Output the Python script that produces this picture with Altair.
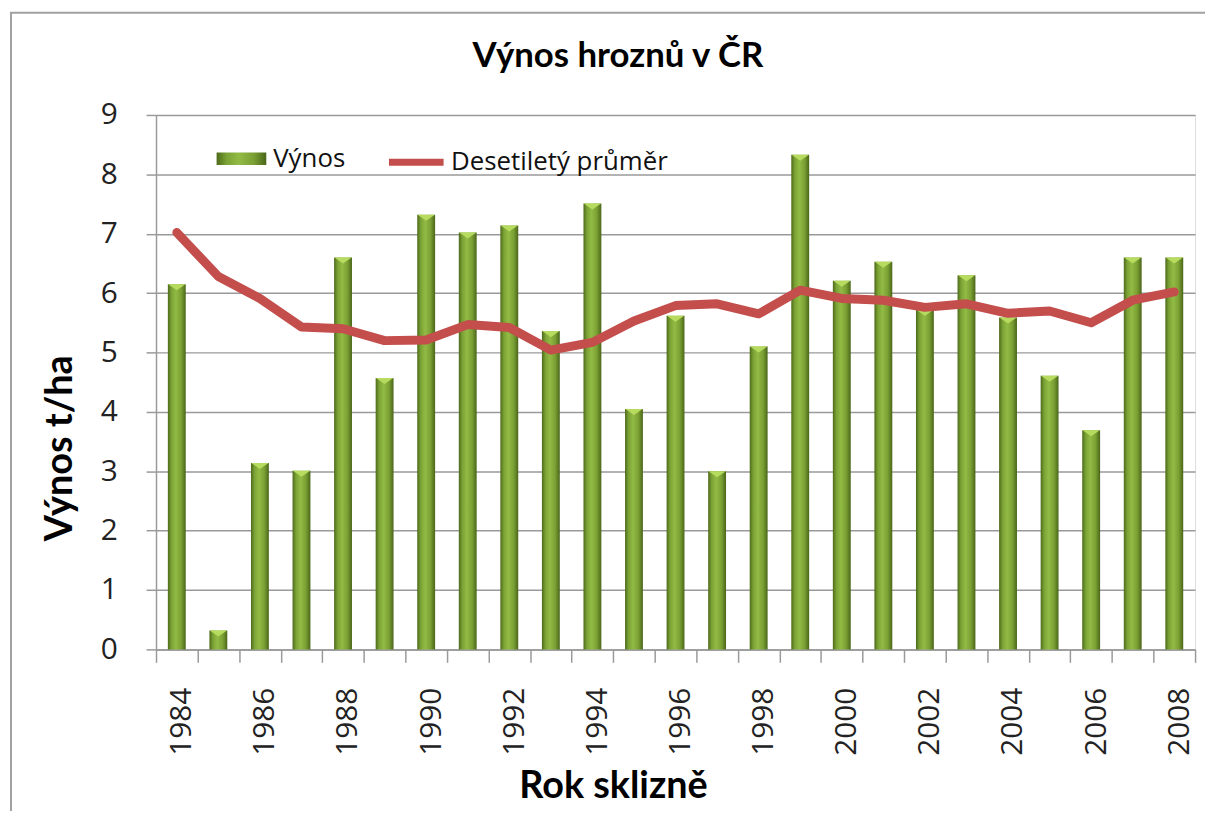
import altair as alt
import pandas as pd

# ---- data ----
years = list(range(1984, 2009))
vynos = [6.15, 0.32, 3.14, 3.01, 6.60, 4.57, 7.32, 7.02, 7.14, 5.36, 7.51, 4.05, 5.62,
         3.00, 5.10, 8.33, 6.21, 6.53, 5.72, 6.30, 5.59, 4.61, 3.69, 6.60, 6.60]
prumer = [7.02, 6.28, 5.91, 5.43, 5.40, 5.20, 5.21, 5.47, 5.42, 5.04, 5.17, 5.53, 5.79,
          5.82, 5.65, 6.05, 5.91, 5.88, 5.76, 5.82, 5.66, 5.70, 5.50, 5.88, 6.02]
y_ticks = list(range(0, 10))
series_bar = "Výnos"
series_line = "Desetiletý průměr"

df = pd.DataFrame({"rok": years, "vynos": vynos, "prumer": prumer,
                   "s1": series_bar, "s2": series_line})

W, H = 1046, 538
GRID = "#9a9a9a"

x_enc = alt.X(
    "rok:O",
    scale=alt.Scale(paddingInner=0, paddingOuter=0),
    axis=alt.Axis(
        title="Rok sklizně", tickBand="extent", labelAngle=-90, labelAlign="right",
        labelBaseline="middle", labelExpr="datum.value % 2 == 0 ? datum.label : ''",
        tickSize=13, labelPadding=25, labelOffset=5, labelFont="Open Sans", labelFontSize=30,
        labelColor="#222", labelOverlap=False, grid=False,
        domainColor=GRID, domainWidth=1.5, tickColor=GRID, tickWidth=1.5,
        titleFont="Lato", titleFontWeight="bold", titleFontSize=38, titleColor="black",
        titleX=460, titleY=138, titleAlign="center", titleBaseline="middle"),
)

y_axis = alt.Axis(
    title="Výnos t/ha", values=y_ticks, tickSize=10, labelPadding=29,
    labelFont="Open Sans", labelFontSize=30, labelColor="#222",
    grid=True, gridColor=GRID, gridWidth=1.5, domainColor=GRID, domainWidth=1.5,
    tickColor=GRID, tickWidth=1.5,
    titleFont="Lato", titleFontWeight="bold", titleFontSize=38, titleColor="black",
    titleAngle=-90, titleX=-96, titleY=335, titleAlign="center", titleBaseline="middle")
y_scale = alt.Scale(domain=[0, 9], nice=False)

bar_grad = alt.Gradient(
    gradient="linear", x1=0, x2=1, y1=0, y2=0,
    stops=[alt.GradientStop(color="#4d6a1b", offset=0),
           alt.GradientStop(color="#7ba335", offset=0.2),
           alt.GradientStop(color="#92bb45", offset=0.45),
           alt.GradientStop(color="#7a9f33", offset=0.75),
           alt.GradientStop(color="#4a661a", offset=1)])

frame = alt.Chart(pd.DataFrame({"a": [0]})).mark_rect(
    fill="white", fillOpacity=0, stroke="#a0a0a0", strokeWidth=2
).encode(x=alt.value(-146), x2=alt.value(W + 100), y=alt.value(-103), y2=alt.value(H + 200))

bars = alt.Chart(df).mark_bar(size=18, color=bar_grad).encode(
    x=x_enc,
    y=alt.Y("vynos:Q", scale=y_scale, axis=y_axis),
    opacity=alt.Opacity("s1:N", scale=alt.Scale(domain=[series_bar], range=[1]),
                        legend=alt.Legend(
                            orient="none", legendX=61, legendY=19, title=None, padding=0,
                            symbolType="M-1,-0.25H1V0.25H-1Z", symbolSize=2500,
                            symbolFillColor="#7fa83a", symbolStrokeWidth=0,
                            labelFont="Open Sans", labelFontSize=26, labelColor="#111",
                            labelOffset=7, labelLimit=0)),
)

tops = alt.Chart(df).mark_point(
    shape="M-1,0L1,0L0,0.7Z", size=300, filled=True, color="#b7db5e", opacity=1
).encode(x=x_enc, y=alt.Y("vynos:Q", scale=y_scale, axis=y_axis))

line = alt.Chart(df).mark_line(strokeWidth=9, strokeCap="round", strokeJoin="round").encode(
    x=x_enc,
    y=alt.Y("prumer:Q", scale=y_scale, axis=y_axis),
    color=alt.Color("s2:N", scale=alt.Scale(domain=[series_line], range=["#c34e4c"]),
                    legend=alt.Legend(
                        orient="none", legendX=231, legendY=16.5, title=None, padding=0,
                        symbolType="M-1,0H1", symbolSize=3025, symbolStrokeWidth=7,
                        labelFont="Open Sans", labelFontSize=26, labelColor="#111",
                        labelOffset=4, labelLimit=0)),
)

chart = alt.layer(frame, bars, tops, line).properties(
    width=W, height=H,
    title=alt.TitleParams("Výnos hroznů v ČR", font="Lato", fontWeight="bold", fontSize=35,
                          color="black", frame="group", anchor="middle", dx=-58,
                          offset=-91, baseline="alphabetic"),
    autosize=alt.AutoSizeParams(type="none"),
    padding={"left": 149, "top": 105, "right": 10, "bottom": 160},
).configure_view(stroke=None).configure(background="white")

chart.save("out.html", embed_options={"renderer": "svg", "actions": False})
